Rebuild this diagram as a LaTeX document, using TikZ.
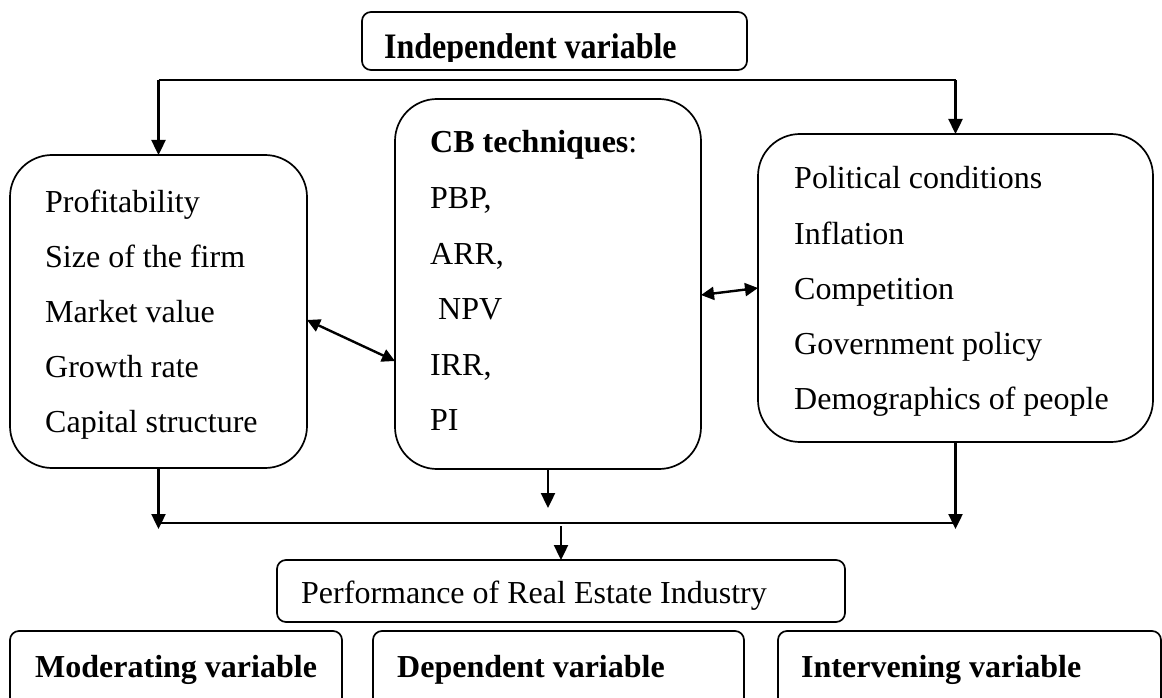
\documentclass[tikz,border=0pt]{standalone}
\usepackage{fontspec}
\setmainfont{Liberation Serif}
\usetikzlibrary{arrows.meta}
\begin{document}
\begin{tikzpicture}[x=1pt,y=-1pt,
  box/.style={draw, line width=1.7pt, rectangle, inner sep=0pt, outer sep=0pt, anchor=north west},
  bigbox/.style={box, rounded corners=42pt},
  smallbox/.style={box, rounded corners=9pt},
  txt/.style={anchor=base west, inner sep=0pt, font=\fontsize{32}{38}\selectfont},
  btxt/.style={txt, font=\fontsize{32}{38}\selectfont\bfseries},
  arr/.style={line width=2.4pt, -{Triangle[length=15pt,width=14pt]}},
  darr/.style={line width=2.4pt, {Triangle[length=13pt,width=13pt]}-{Triangle[length=13pt,width=13pt]}},
  conn/.style={line width=2.4pt}]
\useasboundingbox (0,0) rectangle (1162,698);
\fill[white] (0,0) rectangle (1162,698);
\begin{scope}
\clip (0,0) rectangle (1162,698);
% boxes
\node[smallbox, minimum width=385pt, minimum height=58pt] (T) at (362,12) {};
\node[bigbox, minimum width=297pt, minimum height=313pt] (L) at (10,155) {};
\node[bigbox, minimum width=306pt, minimum height=370pt] (M) at (395,99) {};
\node[bigbox, minimum width=395pt, minimum height=308pt] (R) at (758,134) {};
\node[smallbox, minimum width=568pt, minimum height=62pt] (P) at (277,560) {};
\node[smallbox, minimum width=332pt, minimum height=110pt] (B1) at (10,631) {};
\node[smallbox, minimum width=371pt, minimum height=110pt] (B2) at (373,631) {};
\node[smallbox, minimum width=383pt, minimum height=110pt] (B3) at (778,631) {};
\end{scope}
% top label (clipped at bottom as in the reference)
\begin{scope}
\clip (362,12) rectangle (747,62);
\node[txt] (tT) at (384,59) {\scalebox{1}[1.12]{\bfseries Independent variable}};
\end{scope}
% left box text
\node[txt] (l1) at (45,212) {Profitability};
\node[txt] (l2) at (45,267) {Size of the firm};
\node[txt] (l3) at (45,322) {Market value};
\node[txt] (l4) at (45,377) {Growth rate};
\node[txt] (l5) at (45,432) {Capital structure};
% middle box text
\node[txt] (m0) at (430,153) {\textbf{CB techniques}:};
\node[txt] (m1) at (430,208) {PBP,};
\node[txt] (m2) at (430,264) {ARR,};
\node[txt] (m3) at (438,319) {NPV};
\node[txt] (m4) at (430,375) {IRR,};
\node[txt] (m5) at (430,430) {PI};
% right box text
\node[txt] (r1) at (794,188) {Political conditions};
\node[txt] (r2) at (794,244) {Inflation};
\node[txt] (r3) at (794,299) {Competition};
\node[txt] (r4) at (794,354) {Government policy};
\node[txt] (r5) at (794,409) {Demographics of people};
% performance and bottom labels
\node[txt] (tP) at (301,603) {Performance of Real Estate Industry};
\node[btxt] (t1) at (35,677) {Moderating variable};
\node[btxt] (t2) at (397,677) {Dependent variable};
\node[btxt] (t3) at (801,677) {Intervening variable};
% top connectors
\coordinate (tl) at (158.5,80);
\coordinate (tr) at (955.5,80);
\draw[conn] (tl) -- (tr);
\draw[arr] (tl) -- (tl |- L.north);
\draw[arr] (tr) -- (tr |- R.north);
% double arrows
\draw[darr] ([yshift=-8.5pt]L.east) -- ([yshift=-77pt]M.west);
\draw[darr] ([yshift=-11pt]M.east) -- (R.west);
% bottom connectors
\coordinate (bl) at (158.5,523);
\coordinate (br) at (955.5,523);
\coordinate (blt) at (158.5,529);
\coordinate (brt) at (955.5,529);
\coordinate (mt) at (548,508);
\coordinate (pj) at (561,526);
\draw[conn] (bl) -- (br);
\draw[arr] (L.south) -- (blt);
\draw[arr] (R.south) -- (brt);
\draw[arr] (M.south) -- (mt);
\draw[arr] (pj) -- (pj |- P.north);
\end{tikzpicture}
\end{document}
